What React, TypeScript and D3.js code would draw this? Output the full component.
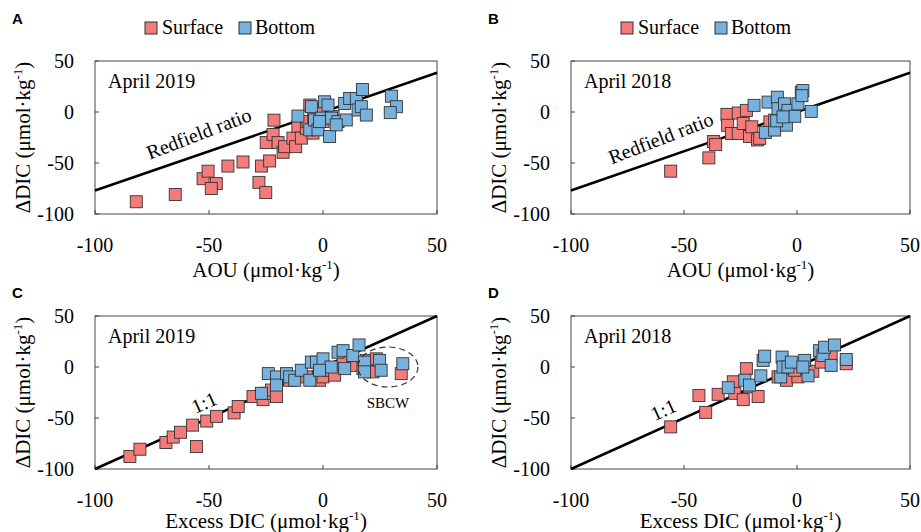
import React from "react"
import * as d3 from "d3"

// data: [x, y]
const surfA = [[-81.9,-88],[-64.8,-80.9],[-52.6,-65.4],[-50.4,-58],[-46.8,-70.2],[-49,-75],[-41.7,-53],[-35.1,-49],[-28.1,-69],[-27,-53],[-25.1,-79],[-23.4,-48],[-24.9,-30],[-21.9,-22],[-21.5,-8],[-19.7,-30],[-17.5,-39.5],[-16.8,-34],[-13.2,-25.6],[-12,-34],[-11,-14],[-9.5,-25.6],[-7.3,-16],[-6.6,-9.4],[-5.8,6.8],[-4.4,-20.7],[-4.1,-6],[-1.5,2],[0,-9.4],[4.4,-4.5]]
const bottA = [[-11,-4],[-5.8,-17.5],[-5.1,5.2],[-3.7,-7.8],[-2.2,-17.5],[-0.7,-6],[0.7,10],[2.2,6.8],[2.9,-24],[3.7,-6],[6.6,-9.4],[10.2,-7.8],[9.5,8.4],[11.7,13.3],[14.6,13.3],[15.4,2],[16.8,5.2],[17.3,22],[19,-3],[30,15.5],[32.2,5.2],[29.5,-0.6],[5.8,-12.6],[-1.5,-9.4]]
const surfB = [[-55.9,-58],[-39,-45],[-37,-29],[-36,-32],[-31,-2.3],[-30.7,-13],[-29,-21],[-26,-1],[-26,-21],[-23.8,-11.3],[-22.4,1.6],[-21,-24],[-20,-14.5],[-17.5,-27.4],[-16.5,-25.8],[-12,-9.7]]
const bottB = [[-19,6.5],[-14,-20],[-12.8,9.7],[-9.9,-17.7],[-9.9,-8],[-8.7,14.5],[-8.4,3.2],[-5.5,8],[-4.7,-12.9],[-4,1.6],[-1,-4.2],[0.4,8],[1.9,19.4],[2.6,21],[2.2,16],[6.3,0.6],[-9,-8.7],[-6.2,-4.8]]
const surfC = [[-84.7,-87.7],[-80.3,-80.6],[-68.9,-74],[-65.7,-68.7],[-62.5,-64],[-57.2,-57],[-55.5,-78],[-51,-53],[-46.7,-48.4],[-39,-45],[-37.2,-38.7],[-30.7,-29],[-26.3,-32],[-24.8,-25.8],[-22.6,-22.6],[-20.4,-29],[-14.6,-13],[-7.3,-9.7],[-1.5,-13],[0,-9.7],[2.9,-3.2],[5.1,-8],[8.8,4.8],[13.1,1.6],[19,6.5],[21.9,-4.8],[23.4,8],[34.3,-6.5],[17.5,-1.6]]
const bottC = [[-27,-25.8],[-24,-6.5],[-20.4,-9.7],[-20.4,-17.7],[-16,-6.5],[-14.6,-9.7],[-12.4,-13],[-9.5,-3.2],[-5.8,-13],[-5.1,4.8],[-2.9,4.8],[0,8],[3.6,0],[6.6,14.5],[8.8,16],[9.5,-1.6],[13.1,11.3],[15.8,21.6],[18.2,4.8],[18.2,-4.8],[24.8,6.5],[25.5,-3.2],[35,3.2],[-1.5,-3.2]]
const surfD = [[-55.9,-58.7],[-43.4,-28],[-40.4,-44.5],[-34.9,-26.8],[-28.2,-14.5],[-27.5,-25.8],[-23.8,-32],[-22.4,-1.6],[-21,-19.4],[-17.2,-29],[-8.4,-9.7],[-4.7,-13],[0.4,-9.7],[3.4,-1.6],[7,-4.2],[10.7,4.8],[15.1,11.3],[21.8,3.2],[-1,-3.2]]
const bottD = [[-30.4,-20.3],[-23.1,-12.9],[-21,-17.7],[-16,-8.7],[-15,6.5],[-14.3,10.6],[-7.2,-9.7],[-6.6,9.7],[-6.2,0],[-4,0],[-2.5,4.8],[3.4,6.5],[4.9,-8.7],[10,16],[11.5,11.3],[12.2,19.4],[16.6,21.6],[15.1,1.6],[21.8,7.4],[2.6,0]]

const xTicks = [-100, -50, 0, 50]
const yTicks = [-100, -50, 0, 50]
const redfield = 0.77

const RED = "#f47b7a"
const BLUE = "#76b2dd"
const serif = "'Liberation Serif', 'Times New Roman', serif"

function Unit() {
  return (
    <>
      {" (μmol·kg"}
      <tspan dy={-8} fontSize={13}>-1</tspan>
      <tspan dy={8}>)</tspan>
    </>
  )
}

function Panel({ left, right, top, bottom, letter, letterY, year, surf, bott, line, labelX, xTitle, titleY, legend }) {
  const x = d3.scaleLinear().domain([-100, 50]).range([left, right])
  const y = d3.scaleLinear().domain([-100, 50]).range([bottom, top])
  const s = 12
  const k = line === "redfield" ? redfield : 1
  const ang = (Math.atan2(y(50 * k) - y(-100 * k), x(50) - x(-100)) * 180) / Math.PI
  const mid = (top + bottom) / 2
  return (
    <g>
      <text x={left - 83} y={letterY} fontFamily="'Liberation Sans', Arial, sans-serif" fontWeight="bold" fontSize={15}>{letter}</text>
      {legend && (
        <g fontFamily={serif} fontSize={20}>
          <rect x={left + 50} y={top - 39} width={12} height={12} fill={RED} stroke="#333" />
          <text x={left + 67} y={top - 27}>Surface</text>
          <rect x={left + 144} y={top - 39} width={12} height={12} fill={BLUE} stroke="#333" />
          <text x={left + 160} y={top - 27}>Bottom</text>
        </g>
      )}
      <rect x={left} y={top} width={right - left} height={bottom - top} fill="none" stroke="#444" strokeWidth={1} />
      {xTicks.map(t => (
        <g key={"x" + t}>
          <line x1={x(t)} x2={x(t)} y1={bottom} y2={bottom - 4} stroke="#444" />
          <text x={x(t)} y={bottom + 38} textAnchor="middle" fontFamily={serif} fontSize={20}>{t}</text>
        </g>
      ))}
      {yTicks.map(t => (
        <g key={"y" + t}>
          <line x1={left} x2={left + 4} y1={y(t)} y2={y(t)} stroke="#444" />
          <text x={left - 21} y={y(t) + 7} textAnchor="end" fontFamily={serif} fontSize={20}>{t}</text>
        </g>
      ))}
      <text x={(left + right) / 2} y={titleY} textAnchor="middle" fontFamily={serif} fontSize={21}>
        {xTitle}<Unit />
      </text>
      <text transform={`translate(${left - 65},${mid}) rotate(-90)`} textAnchor="middle" fontFamily={serif} fontSize={21}>
        ΔDIC<Unit />
      </text>
      <text x={left + 13} y={top + 27} fontFamily={serif} fontSize={20}>{year}</text>
      <line x1={x(-100)} y1={y(-100 * k)} x2={x(50)} y2={y(50 * k)} stroke="#000" strokeWidth={2.5} />
      {surf.map((d, i) => (
        <rect key={"s" + i} x={x(d[0]) - s / 2} y={y(d[1]) - s / 2} width={s} height={s} fill={RED} stroke="#333" strokeWidth={0.9} />
      ))}
      {bott.map((d, i) => (
        <rect key={"b" + i} x={x(d[0]) - s / 2} y={y(d[1]) - s / 2} width={s} height={s} fill={BLUE} stroke="#333" strokeWidth={0.9} />
      ))}
      {line === "redfield" ? (
        <text transform={`translate(${x(labelX)},${y(labelX * k) - 12}) rotate(${ang - 2})`} fontFamily={serif} fontSize={20}>Redfield ratio</text>
      ) : (
        <text transform={`translate(${x(labelX)},${y(labelX) - 10}) rotate(${ang})`} fontFamily={serif} fontSize={20}>1:1</text>
      )}
    </g>
  )
}

export default function App() {
  const topA = 61, botA = 214, topC = 316, botC = 469
  return (
    <svg width={921} height={532} style={{ position: "absolute", left: 0, top: 0, background: "#fff" }}>
      <Panel left={95} right={437} top={topA} bottom={botA} letter="A" letterY={24} year="April 2019" surf={surfA} bott={bottA} line="redfield" labelX={-76} xTitle="AOU" titleY={277} legend />
      <Panel left={571} right={910} top={topA} bottom={botA} letter="B" letterY={24} year="April 2018" surf={surfB} bott={bottB} line="redfield" labelX={-82} xTitle="AOU" titleY={277} legend />
      <Panel left={95} right={437} top={topC} bottom={botC} letter="C" letterY={298} year="April 2019" surf={surfC} bott={bottC} line="1:1" labelX={-56} xTitle="Excess DIC" titleY={528} />
      <Panel left={571} right={910} top={topC} bottom={botC} letter="D" letterY={298} year="April 2018" surf={surfD} bott={bottD} line="1:1" labelX={-63} xTitle="Excess DIC" titleY={528} />
      <ellipse cx={388} cy={367} rx={30} ry={20} fill="none" stroke="#333" strokeWidth={1.2} strokeDasharray="6,4" />
      <text x={388} y={408} textAnchor="middle" fontFamily={serif} fontSize={15}>SBCW</text>
    </svg>
  )
}
